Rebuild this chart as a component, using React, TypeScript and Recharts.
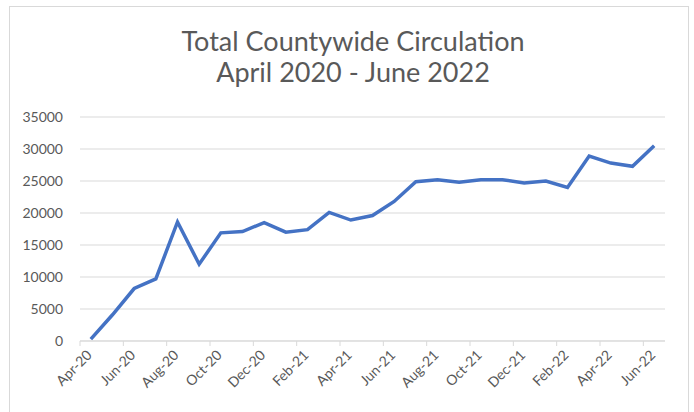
import React from "react";
import { CartesianGrid, Line, LineChart, XAxis, YAxis } from "recharts";

const months = [
  "Apr-20", "May-20", "Jun-20", "Jul-20", "Aug-20", "Sep-20", "Oct-20", "Nov-20", "Dec-20",
  "Jan-21", "Feb-21", "Mar-21", "Apr-21", "May-21", "Jun-21", "Jul-21", "Aug-21", "Sep-21",
  "Oct-21", "Nov-21", "Dec-21", "Jan-22", "Feb-22", "Mar-22", "Apr-22", "May-22", "Jun-22",
];

const circulation = [
  300, 4100, 8200, 9700, 18600, 12000, 16900, 17100, 18500,
  17000, 17400, 20100, 18900, 19600, 21800, 24900, 25200, 24800,
  25200, 25200, 24700, 25000, 24000, 28900, 27800, 27300, 30500,
];

const yTicks = [0, 5000, 10000, 15000, 20000, 25000, 30000, 35000];

const data = months.map((m, i) => ({ month: m, value: circulation[i] }));

const W = 678;
const H = 410;
const margin = { top: 110, right: 23, bottom: 0, left: 0 };
const yAxisW = 70;
const plotW = W - margin.left - margin.right - yAxisW;
const half = plotW / months.length / 2;

const grey = "#595959";
const light = "#d9d9d9";
const font = "Lato, 'Open Sans', sans-serif";

const XTick = (props: any) => {
  const { x, y, payload } = props;
  const tx = x + 2;
  const ty = y + 15;
  return (
    <g>
      <line x1={x - half} x2={x - half} y1={y} y2={y + 5} stroke={light} />
      <text
        x={tx}
        y={ty}
        transform={`rotate(-45, ${tx}, ${ty})`}
        textAnchor="end"
        fill={grey}
        fontSize={14}
        fontFamily={font}
      >
        {payload.value}
      </text>
    </g>
  );
};

export default function App() {
  return (
    <div
      style={{
        position: "absolute",
        left: 9,
        top: 6,
        width: 680,
        height: 420,
        border: `1px solid ${light}`,
        boxSizing: "border-box",
        background: "#fff",
      }}
    >
      <div
        style={{
          position: "absolute",
          top: 18,
          left: 4,
          width: W,
          textAlign: "center",
          fontFamily: font,
          fontSize: 27,
          lineHeight: "31px",
          color: grey,
        }}
      >
        Total Countywide Circulation
        <br />
        April 2020 - June 2022
      </div>
      <LineChart width={W} height={H} data={data} margin={margin}>
        <CartesianGrid vertical={false} stroke={light} />
        <XAxis
          dataKey="month"
          interval={1}
          padding={{ left: half, right: half }}
          tickLine={false}
          tickSize={0}
          tickMargin={0}
          height={H - margin.top - 224}
          axisLine={{ stroke: light }}
          tick={<XTick />}
        />
        <YAxis
          domain={[0, 35000]}
          ticks={yTicks}
          width={yAxisW}
          axisLine={false}
          tickLine={false}
          tickSize={0}
          tickMargin={17}
          tick={{ fill: grey, fontSize: 14, fontFamily: font }}
        />
        <Line
          type="linear"
          dataKey="value"
          stroke="#4472c4"
          strokeWidth={3.5}
          dot={false}
          isAnimationActive={false}
        />
      </LineChart>
    </div>
  );
}
